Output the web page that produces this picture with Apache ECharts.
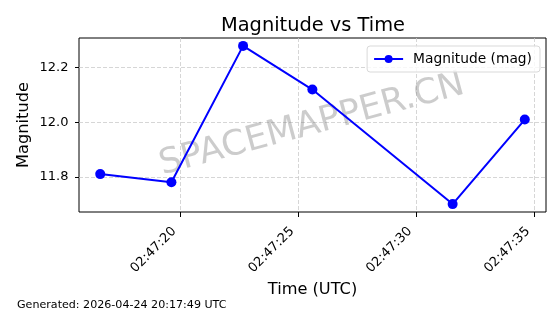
<!DOCTYPE html>
<html><head><meta charset="utf-8">
<script src="https://cdn.jsdelivr.net/npm/echarts@6/dist/echarts.min.js"></script>
<style>html,body{margin:0;padding:0;background:#fff}#c{width:560px;height:314px}</style>
</head><body><div id="c"></div>
<script>
const times = ['02:47:16.59','02:47:19.61','02:47:22.65','02:47:25.59','02:47:31.54','02:47:34.60'];
const magnitudes = [11.81, 11.78, 12.28, 12.12, 11.70, 12.01];
const xTickLabels = ['02:47:20','02:47:25','02:47:30','02:47:35'];
const yTickLabels = ['11.8','12.0','12.2'];
const seriesName = 'Magnitude (mag)';
const titleText = 'Magnitude vs Time';
const xAxisTitle = 'Time (UTC)';
const yAxisTitle = 'Magnitude';
const footnote = 'Generated: 2026-04-24 20:17:49 UTC';
const watermark = 'SPACEMAPPER.CN';

function toSec(s){const p=s.split(':');return (+p[0])*3600+(+p[1])*60+(+p[2]);}
function fmt(v){const t=Math.round(v);const h=Math.floor(t/3600),m=Math.floor(t%3600/60),s=t%60;return [h,m,s].map(n=>String(n).padStart(2,'0')).join(':');}
const xs = times.map(toSec);
const xTicks = xTickLabels.map(toSec);
const yTicks = yTickLabels.map(Number);
const xLo=Math.min(...xs), xHi=Math.max(...xs), xPad=(xHi-xLo)*0.05;
const yLo=Math.min(...magnitudes), yHi=Math.max(...magnitudes), yPad=(yHi-yLo)*0.05;
const F='DejaVu Sans';
const chart = echarts.init(document.getElementById('c'), null, {renderer:'canvas'});
chart.setOption({
  animation:false,
  backgroundColor:'#fff',
  textStyle:{fontFamily:F},
  title:{text:titleText,left:308,top:11,textAlign:'center',textStyle:{fontFamily:F,fontSize:19.4,fontWeight:'normal',color:'#000'}},
  legend:{data:[seriesName],right:20,top:46,itemWidth:29,itemHeight:10,itemGap:0,
    padding:[6,8,6,6],borderColor:'#d9d9d9',borderWidth:1,borderRadius:3,backgroundColor:'rgba(255,255,255,0.8)',
    textStyle:{fontFamily:F,fontSize:13.8,color:'#000',padding:[0,0,0,5]}},
  grid:{left:79,top:38,right:14,bottom:102,show:true,borderColor:'#000',borderWidth:1,backgroundColor:'transparent'},
  xAxis:{type:'value',min:xLo-xPad,max:xHi+xPad,
    name:xAxisTitle,nameLocation:'middle',nameGap:68,nameTextStyle:{fontFamily:F,fontSize:16.2,color:'#000'},
    axisLine:{show:false},
    axisTick:{show:true,length:5,customValues:xTicks,lineStyle:{color:'#000',width:1}},
    axisLabel:{customValues:xTicks,rotate:45,margin:11,padding:[0,9,0,0],formatter:v=>fmt(v),fontFamily:F,fontSize:13,color:'#000'},
    splitLine:{show:true,lineStyle:{color:'#cccccc',width:0.8,type:[4,2]}}},
  yAxis:{type:'value',min:yLo-yPad,max:yHi+yPad,
    name:yAxisTitle,nameLocation:'middle',nameGap:47,nameMoveOverlap:false,nameRotate:90,nameTextStyle:{fontFamily:F,fontSize:16.2,color:'#000'},
    axisLine:{show:false},
    axisTick:{show:true,length:4,customValues:yTicks,lineStyle:{color:'#000',width:1}},
    axisLabel:{customValues:yTicks,margin:10.5,formatter:v=>v.toFixed(1),fontFamily:F,fontSize:13,color:'#000'},
    splitLine:{show:true,lineStyle:{color:'#cccccc',width:0.8,type:[4,2]}}},
  series:[{name:seriesName,type:'line',data:xs.map((x,i)=>[x,magnitudes[i]]),
    symbol:'circle',symbolSize:10,showSymbol:true,
    lineStyle:{color:'#0000ff',width:2},itemStyle:{color:'#0000ff'},z:3}],
  graphic:[
    {type:'text',left:17,top:300,style:{text:footnote,font:'11.1px "DejaVu Sans"',fill:'#000'}},
    {type:'text',x:312,y:125,rotation:Math.PI/12,z:1,style:{text:watermark,font:'35px "DejaVu Sans"',fill:'rgba(128,128,128,0.4)',align:'center',verticalAlign:'middle'}}
  ]
});
</script></body></html>
